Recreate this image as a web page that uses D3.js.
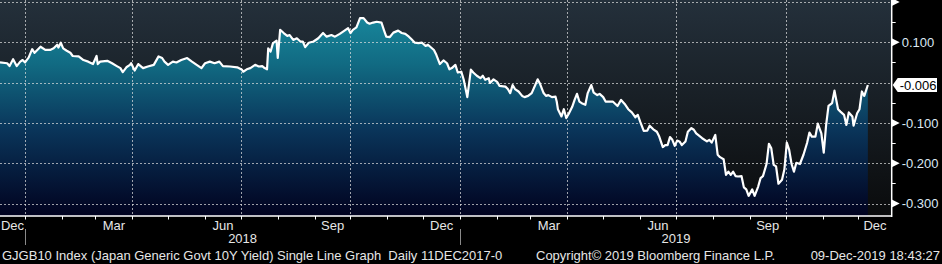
<!DOCTYPE html>
<html>
<head>
<meta charset="utf-8">
<script src="https://cdn.jsdelivr.net/npm/d3@7"></script>
<style>
  html, body { margin: 0; padding: 0; background: #000; }
  svg { display: block; font-family: "Liberation Sans", Arial, sans-serif; }
</style>
</head>
<body>
<svg id="chart"></svg>
<script>
// GJGB10 daily yield
const dates2018 = [
  "2017-12-11","2017-12-17","2017-12-19","2017-12-22","2017-12-25","2017-12-28","2017-12-30",
  "2018-01-01","2018-01-04","2018-01-07","2018-01-09","2018-01-14","2018-01-18","2018-01-22","2018-01-25","2018-01-28","2018-01-29","2018-01-31",
  "2018-02-02","2018-02-05","2018-02-08","2018-02-10","2018-02-15","2018-02-19","2018-02-23","2018-02-27",
  "2018-03-02","2018-03-03","2018-03-05","2018-03-11","2018-03-15","2018-03-19","2018-03-22","2018-03-24","2018-03-27","2018-03-30","2018-03-31",
  "2018-04-03","2018-04-06","2018-04-10","2018-04-14","2018-04-19","2018-04-23","2018-04-26","2018-04-28",
  "2018-05-01","2018-05-05","2018-05-08","2018-05-12","2018-05-17","2018-05-21","2018-05-25","2018-05-29",
  "2018-06-01","2018-06-05","2018-06-09","2018-06-13","2018-06-16","2018-06-22","2018-06-28",
  "2018-07-02","2018-07-03","2018-07-06","2018-07-09","2018-07-13","2018-07-16","2018-07-19","2018-07-21","2018-07-23","2018-07-24","2018-07-26","2018-07-28","2018-07-31",
  "2018-08-01","2018-08-03","2018-08-06","2018-08-09","2018-08-11","2018-08-14","2018-08-17","2018-08-20","2018-08-22","2018-08-24","2018-08-27","2018-08-31",
  "2018-09-04","2018-09-08","2018-09-11","2018-09-15","2018-09-18","2018-09-22","2018-09-26","2018-09-29",
  "2018-10-01","2018-10-03","2018-10-06","2018-10-09","2018-10-12","2018-10-15","2018-10-17","2018-10-20","2018-10-23","2018-10-27","2018-10-29","2018-10-31",
  "2018-11-03","2018-11-06","2018-11-10","2018-11-13","2018-11-16","2018-11-19","2018-11-21","2018-11-24","2018-11-27","2018-11-30",
  "2018-12-03","2018-12-05","2018-12-10","2018-12-12","2018-12-15","2018-12-18","2018-12-21","2018-12-23","2018-12-25","2018-12-28","2018-12-30"
];
const yields2018 = [
  0.050,0.048,0.041,0.058,0.041,0.052,0.056,
  0.050,0.062,0.083,0.074,0.089,0.081,0.081,0.085,0.094,0.087,0.099,
  0.085,0.079,0.074,0.066,0.065,0.056,0.052,0.046,
  0.066,0.046,0.052,0.054,0.048,0.041,0.036,0.026,0.038,0.044,0.048,
  0.030,0.046,0.036,0.040,0.044,0.065,0.061,0.052,
  0.044,0.052,0.050,0.056,0.061,0.052,0.044,0.036,
  0.048,0.052,0.048,0.052,0.041,0.040,0.038,
  0.032,0.027,0.033,0.036,0.044,0.040,0.041,0.036,0.033,0.085,0.077,0.098,0.104,
  0.061,0.131,0.123,0.116,0.118,0.106,0.110,0.102,0.102,0.088,0.099,0.102,
  0.110,0.123,0.114,0.118,0.114,0.121,0.129,0.135,
  0.123,0.131,0.137,0.160,0.160,0.149,0.146,0.149,0.151,0.149,0.131,0.114,
  0.113,0.124,0.129,0.123,0.121,0.114,0.108,0.099,0.098,0.099,
  0.091,0.094,0.081,0.069,0.046,0.055,0.048,0.033,0.036,0.044,0.025
];
const dates2019 = [
  "2019-01-02","2019-01-04","2019-01-07","2019-01-10","2019-01-12","2019-01-15","2019-01-18","2019-01-20","2019-01-22","2019-01-25","2019-01-26","2019-01-29",
  "2019-02-01","2019-02-03","2019-02-08","2019-02-10","2019-02-12","2019-02-14","2019-02-16","2019-02-19","2019-02-22","2019-02-24","2019-02-27",
  "2019-03-02","2019-03-05","2019-03-07","2019-03-09","2019-03-12","2019-03-14","2019-03-16","2019-03-19","2019-03-22","2019-03-23","2019-03-24","2019-03-27","2019-03-29","2019-03-31",
  "2019-04-02","2019-04-05","2019-04-07","2019-04-09","2019-04-11","2019-04-13","2019-04-16","2019-04-18","2019-04-21","2019-04-23","2019-04-26","2019-04-28",
  "2019-05-01","2019-05-03","2019-05-05","2019-05-09","2019-05-13","2019-05-16","2019-05-19","2019-05-22","2019-05-25","2019-05-28","2019-05-30",
  "2019-06-01","2019-06-04","2019-06-07","2019-06-09","2019-06-12","2019-06-15","2019-06-17","2019-06-20","2019-06-22","2019-06-24","2019-06-26","2019-06-28","2019-06-30",
  "2019-07-02","2019-07-04","2019-07-06","2019-07-09","2019-07-11","2019-07-14","2019-07-16","2019-07-18","2019-07-23","2019-07-27","2019-07-29","2019-07-31",
  "2019-08-03","2019-08-05","2019-08-07","2019-08-10","2019-08-12","2019-08-14","2019-08-16","2019-08-18","2019-08-20","2019-08-22","2019-08-25","2019-08-27","2019-08-29","2019-08-31",
  "2019-09-03","2019-09-05","2019-09-08","2019-09-10","2019-09-12","2019-09-15","2019-09-17","2019-09-19","2019-09-21","2019-09-23","2019-09-25","2019-09-28","2019-09-30",
  "2019-10-02","2019-10-04","2019-10-06","2019-10-08","2019-10-10","2019-10-13","2019-10-16","2019-10-19","2019-10-21","2019-10-23","2019-10-26","2019-10-28","2019-10-31",
  "2019-11-02","2019-11-04","2019-11-06","2019-11-09","2019-11-11","2019-11-14","2019-11-16","2019-11-19","2019-11-21","2019-11-23","2019-11-26","2019-11-27","2019-11-30",
  "2019-12-02","2019-12-04","2019-12-06","2019-12-09"
];
const yields2019 = [
  0.027,0.007,-0.036,0.032,0.025,0.017,0.011,0.017,0.007,0.011,-0.001,0.008,
  0.002,-0.008,-0.010,-0.016,-0.026,-0.006,-0.016,-0.022,-0.033,-0.036,-0.033,
  -0.026,-0.006,0.008,-0.003,-0.026,-0.033,-0.031,-0.036,-0.035,-0.047,-0.066,-0.084,-0.066,-0.088,
  -0.078,-0.060,-0.043,-0.028,-0.047,-0.051,-0.055,-0.026,-0.006,-0.025,-0.031,-0.028,
  -0.036,-0.047,-0.047,-0.047,-0.058,-0.043,-0.053,-0.066,-0.074,-0.086,-0.080,
  -0.097,-0.120,-0.119,-0.107,-0.116,-0.122,-0.134,-0.160,-0.155,-0.155,-0.135,-0.142,-0.157,
  -0.144,-0.146,-0.155,-0.146,-0.122,-0.113,-0.117,-0.126,-0.138,-0.146,-0.142,-0.149,
  -0.130,-0.179,-0.185,-0.190,-0.229,-0.221,-0.229,-0.221,-0.232,-0.233,-0.232,-0.260,-0.265,-0.281,
  -0.265,-0.281,-0.258,-0.237,-0.232,-0.202,-0.152,-0.163,-0.204,-0.208,-0.251,-0.241,-0.215,
  -0.149,-0.167,-0.202,-0.221,-0.199,-0.202,-0.179,-0.150,-0.124,-0.134,-0.134,-0.102,-0.126,
  -0.174,-0.105,-0.058,-0.051,-0.020,-0.066,-0.072,-0.080,-0.105,-0.074,-0.084,-0.107,-0.076,
  -0.066,-0.022,-0.033,-0.006
];

const yTicks = [0.2, 0.1, 0, -0.1, -0.2, -0.3];
const labeledMonths = ["Dec", "Mar", "Jun", "Sep"];
const footerLeft = "GJGB10 Index (Japan Generic Govt 10Y Yield) Single Line Graph  Daily 11DEC2017-0";
const footerMid = "Copyright\u00a9 2019 Bloomberg Finance L.P.";
const footerRight = "09-Dec-2019 18:43:27";

const width = 942, height = 264;
const plot = { left: 0, right: 891.7, top: 0, bottom: 216 };

const parse = d3.timeParse("%Y-%m-%d");
const data = dates2018.concat(dates2019).map((d, i) => ({
  date: parse(d),
  value: yields2018.concat(yields2019)[i]
}));
const lastPoint = data[data.length - 1];

const x = d3.scaleTime()
  .domain([parse("2017-12-11"), parse("2019-12-29")])
  .range([plot.left, plot.right]);
const y = d3.scaleLinear()
  .domain([0.2, -0.3])
  .range([2, 203.5]);

const fmt = d3.formatLocale({ decimal: ".", thousands: ",", grouping: [3], currency: ["", ""], minus: "-" }).format(".3f");

const svg = d3.select("#chart").attr("width", width).attr("height", height);
const defs = svg.append("defs");

const bg = defs.append("linearGradient").attr("id", "bg").attr("x1", 0).attr("y1", 0).attr("x2", 0).attr("y2", 1);
bg.append("stop").attr("offset", 0).attr("stop-color", "#24303b");
bg.append("stop").attr("offset", 1).attr("stop-color", "#0a0b0c");

const fill = defs.append("linearGradient").attr("id", "fill")
  .attr("gradientUnits", "userSpaceOnUse").attr("x1", 0).attr("y1", plot.top).attr("x2", 0).attr("y2", plot.bottom);
fill.append("stop").attr("offset", 0).attr("stop-color", "#1a90a4");
fill.append("stop").attr("offset", 0.3).attr("stop-color", "#116a82");
fill.append("stop").attr("offset", 0.6).attr("stop-color", "#0a355a");
fill.append("stop").attr("offset", 1).attr("stop-color", "#01021f");

svg.append("rect").attr("width", width).attr("height", height).attr("fill", "#000");
svg.append("rect")
  .attr("x", plot.left).attr("y", plot.top)
  .attr("width", plot.right - plot.left).attr("height", plot.bottom - plot.top)
  .attr("fill", "url(#bg)");

// area + line
const area = d3.area().x(d => x(d.date)).y0(plot.bottom).y1(d => y(d.value));
const line = d3.line().x(d => x(d.date)).y(d => y(d.value));
svg.append("path").datum(data).attr("d", area).attr("fill", "url(#fill)");

// grid (dotted, on top of the area)
const quarterStarts = d3.timeMonth.every(3).range(x.domain()[0], x.domain()[1]);
const grid = svg.append("g").attr("stroke", "#e0e0e0").attr("stroke-opacity", 0.7).attr("stroke-dasharray", "2,2");
grid.selectAll(".vgrid").data(quarterStarts).join("line").attr("class", "vgrid")
  .attr("x1", d => Math.round(x(d)) + 0.5).attr("x2", d => Math.round(x(d)) + 0.5)
  .attr("y1", plot.top).attr("y2", plot.bottom);
grid.selectAll(".hgrid").data(yTicks).join("line").attr("class", "hgrid")
  .attr("x1", plot.left).attr("x2", plot.right)
  .attr("y1", d => Math.round(y(d)) + 0.5).attr("y2", d => Math.round(y(d)) + 0.5);

svg.append("path").datum(data).attr("d", line)
  .attr("fill", "none").attr("stroke", "#fff").attr("stroke-width", 2.2)
  .attr("stroke-linejoin", "round");

// right axis
svg.append("rect").attr("x", plot.right).attr("y", 0).attr("width", width - plot.right).attr("height", plot.bottom).attr("fill", "#000");
svg.append("line").attr("x1", plot.right).attr("x2", plot.right).attr("y1", 0).attr("y2", plot.bottom + 1)
  .attr("stroke", "#fff").attr("stroke-width", 1.5);
const minor = yTicks.slice(1).map(d => d + 0.05);
svg.append("g").selectAll("line").data(minor).join("line")
  .attr("x1", plot.right).attr("x2", plot.right + 4)
  .attr("y1", d => Math.round(y(d)) + 0.5).attr("y2", d => Math.round(y(d)) + 0.5)
  .attr("stroke", "#fff");
svg.append("g").selectAll("path").data(yTicks.filter(d => d !== 0)).join("path")
  .attr("transform", d => `translate(${plot.right},${y(d)})`)
  .attr("d", "M0,-4L8,0L0,4Z").attr("fill", "#fff");
svg.append("g").selectAll("text").data(yTicks.filter(d => d !== 0 && d < 0.15)).join("text")
  .attr("x", plot.right + 10).attr("y", d => y(d)).attr("dy", "0.36em")
  .attr("font-size", 13).attr("fill", "#dce8f4").text(d => fmt(d));

// last value tag
const ly = y(lastPoint.value);
svg.append("path")
  .attr("d", `M${plot.right + 1},${ly}L${plot.right + 6},${ly - 7}L${width - 5},${ly - 7}L${width - 5},${ly + 7}L${plot.right + 6},${ly + 7}Z`)
  .attr("fill", "#fff");
svg.append("text").attr("x", plot.right + 8).attr("y", ly).attr("dy", "0.36em")
  .attr("font-size", 13).attr("fill", "#000").text(fmt(lastPoint.value));

// bottom axis
svg.append("line").attr("x1", plot.left).attr("x2", plot.right).attr("y1", plot.bottom).attr("y2", plot.bottom)
  .attr("stroke", "#fff").attr("stroke-width", 1.5);
const months = d3.timeMonth.range(d3.timeMonth.ceil(x.domain()[0]), x.domain()[1]);
svg.append("g").selectAll("line").data(months).join("line")
  .attr("x1", d => Math.round(x(d)) + 0.5).attr("x2", d => Math.round(x(d)) + 0.5)
  .attr("y1", plot.bottom).attr("y2", plot.bottom + 3.5)
  .attr("stroke", "#fff");
const monthFmt = d3.timeFormat("%b");
const allMonths = d3.timeMonth.range(d3.timeMonth.floor(x.domain()[0]), x.domain()[1]);
const labelMonths = allMonths.filter(d => labeledMonths.includes(monthFmt(d)));
svg.append("g").selectAll("text").data(labelMonths).join("text")
  .attr("x", d => {
    const a = Math.max(x(d), plot.left), b = Math.min(x(d3.timeMonth.offset(d, 1)), plot.right);
    return (a + b) / 2;
  })
  .attr("y", 225).attr("dy", "0.36em").attr("text-anchor", "middle")
  .attr("font-size", 13).attr("fill", "#e6e6e6").text(d => monthFmt(d));

const years = d3.timeYear.range(d3.timeYear.ceil(x.domain()[0]), x.domain()[1]);
svg.append("g").selectAll("line").data(years).join("line")
  .attr("x1", d => Math.round(x(d)) + 0.5).attr("x2", d => Math.round(x(d)) + 0.5)
  .attr("y1", 229).attr("y2", 245)
  .attr("stroke", "#8a8a8a");
svg.append("g").selectAll("text").data(years).join("text")
  .attr("x", d => (x(d) + Math.min(x(d3.timeYear.offset(d, 1)), plot.right)) / 2)
  .attr("y", 238.5).attr("dy", "0.36em").attr("text-anchor", "middle")
  .attr("font-size", 13).attr("fill", "#e6e6e6").text(d3.timeFormat("%Y"));

// footer
const footer = svg.append("g").attr("font-size", 13).attr("fill", "#e6e6e6");
footer.append("text").attr("x", 2).attr("y", 255).attr("dy", "0.36em")
  .attr("xml:space", "preserve").style("white-space", "pre").text(footerLeft);
footer.append("text").attr("x", 536).attr("y", 255).attr("dy", "0.36em").text(footerMid);
footer.append("text").attr("x", 940).attr("y", 255).attr("dy", "0.36em").attr("text-anchor", "end").text(footerRight);
</script>
</body>
</html>
